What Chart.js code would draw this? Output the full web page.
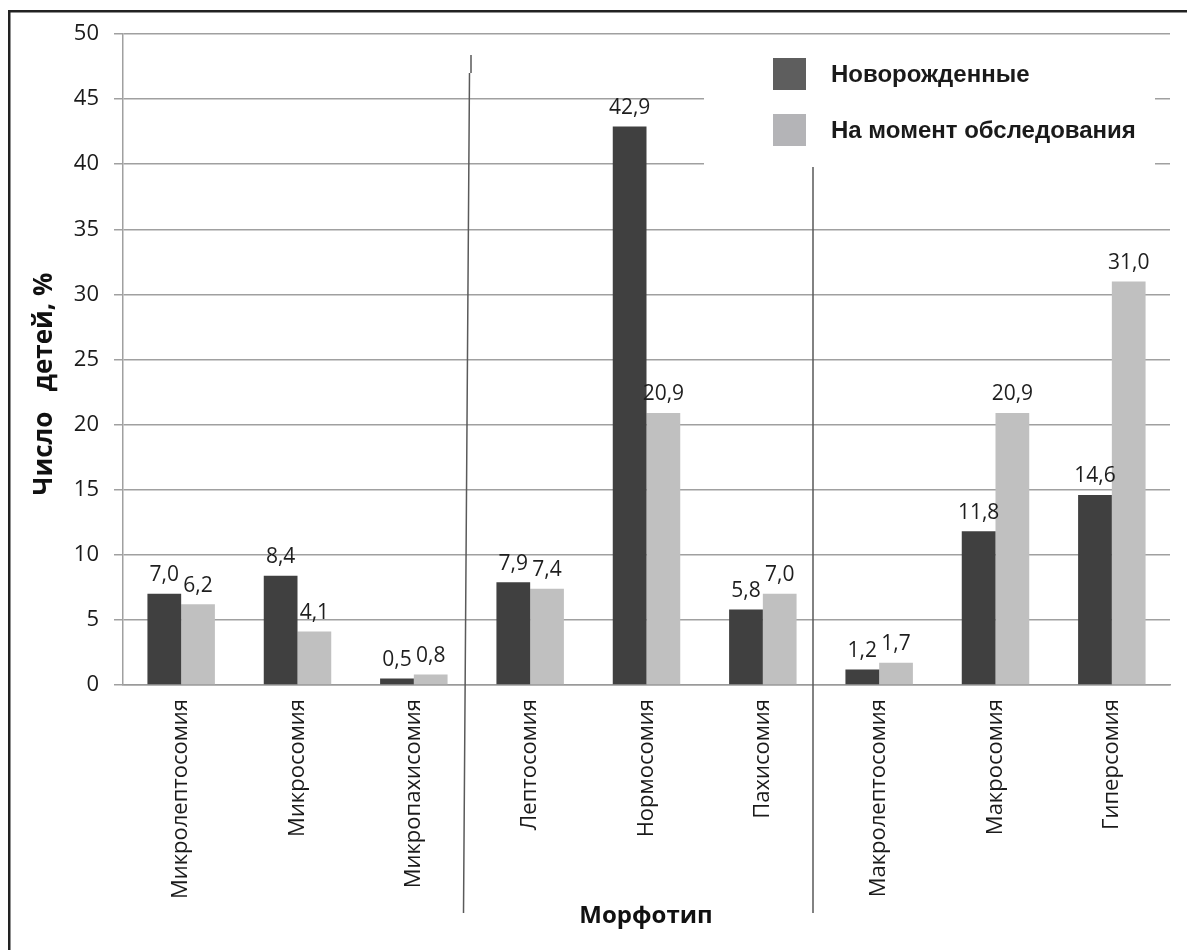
<!DOCTYPE html>
<html lang="ru">
<head>
<meta charset="utf-8">
<title>Распределение детей по морфотипам</title>
<script src="https://cdn.jsdelivr.net/npm/chart.js@4.4.1/dist/chart.umd.min.js"></script>
<style>
  html, body { margin: 0; padding: 0; background: #ffffff; }
  #wrap { position: relative; width: 1187px; height: 950px; }
  canvas { display: block; }
</style>
</head>
<body>
<div id="wrap"><canvas id="chart" width="1187" height="950"></canvas></div>
<script>
// Морфотипы (категории оси X)
const categories = [
  'Микролептосомия', 'Микросомия', 'Микропахисомия',
  'Лептосомия', 'Нормосомия', 'Пахисомия',
  'Макролептосомия', 'Макросомия', 'Гиперсомия'
];

// Доля детей, %
const newborns = [7.0, 8.4, 0.5, 7.9, 42.9, 5.8, 1.2, 11.8, 14.6];
const atExamination = [6.2, 4.1, 0.8, 7.4, 20.9, 7.0, 1.7, 20.9, 31.0];

const seriesNames = ['Новорожденные', 'На момент обследования'];
const yTicks = [0, 5, 10, 15, 20, 25, 30, 35, 40, 45, 50];

const axisTitleY = 'Число   детей, %';
const axisTitleX = 'Морфотип';

const barColors = ['#404040', '#c0c0c0'];
const legendColors = ['#5e5e5e', '#b4b4b7'];

const fmt = v => v.toFixed(1).replace('.', ',');

// Рамка, разделители групп, подписи значений, заголовки осей и легенда
const decorations = {
  id: 'decorations',
  afterDatasetsDraw(chart) {
    const ctx = chart.ctx;
    ctx.save();
    ctx.fillStyle = '#1e1e1e';
    ctx.font = '21px "Open Sans", sans-serif';
    ctx.textAlign = 'center';
    ctx.textBaseline = 'bottom';
    chart.data.datasets.forEach((ds, di) => {
      chart.getDatasetMeta(di).data.forEach((bar, i) => {
        ctx.fillText(fmt(ds.data[i]), bar.x, bar.y - 8);
      });
    });
    ctx.restore();
  },
  afterDraw(chart) {
    const ctx = chart.ctx;
    const xs = chart.scales.x;
    const area = chart.chartArea;
    ctx.save();

    // внешняя рамка (верх и слева)
    ctx.fillStyle = '#222222';
    ctx.fillRect(8, 10, chart.width - 8, 2.5);
    ctx.fillRect(8, 10, 2.5, chart.height - 10);

    // легенда на белой подложке
    ctx.fillStyle = '#ffffff';
    ctx.fillRect(704, area.top + 8, 451, 126);
    ctx.font = 'bold 24px "Liberation Sans", Arial, sans-serif';
    ctx.textAlign = 'left';
    ctx.textBaseline = 'middle';
    seriesNames.forEach((name, i) => {
      const cy = 74 + i * 56;
      ctx.fillStyle = legendColors[i];
      ctx.fillRect(773, cy - 16, 33, 32);
      ctx.fillStyle = '#1a1a1a';
      ctx.fillText(name, 831, cy + 1);
    });

    // разделители групп морфотипов
    ctx.strokeStyle = '#5a5a5a';
    ctx.lineWidth = 1.5;
    const sep1 = (xs.getPixelForValue(2) + xs.getPixelForValue(3)) / 2;
    const sep2 = (xs.getPixelForValue(5) + xs.getPixelForValue(6)) / 2;
    ctx.beginPath();
    ctx.moveTo(sep1 - 1, area.top + 21);
    ctx.lineTo(sep1 - 1, area.top + 39);
    ctx.moveTo(sep1 - 2.5, area.top + 39);
    ctx.lineTo(sep1 - 8.5, area.bottom + 228);
    ctx.moveTo(sep2 - 8, area.top + 133);
    ctx.lineTo(sep2 - 8, area.bottom + 228);
    ctx.stroke();

    // заголовки осей
    ctx.fillStyle = '#111111';
    ctx.textAlign = 'center';
    ctx.textBaseline = 'middle';
    ctx.font = 'bold 24px "Open Sans", sans-serif';
    ctx.fillText(axisTitleX, 646, 916);
    ctx.font = 'bold 26px "Open Sans", sans-serif';
    ctx.translate(45, 384);
    ctx.rotate(-Math.PI / 2);
    ctx.fillText(axisTitleY, 0, 0);
    ctx.restore();
  }
};

new Chart(document.getElementById('chart'), {
  type: 'bar',
  data: {
    labels: categories,
    datasets: [
      { label: seriesNames[0], data: newborns, backgroundColor: barColors[0] },
      { label: seriesNames[1], data: atExamination, backgroundColor: barColors[1] }
    ]
  },
  options: {
    responsive: false,
    animation: false,
    devicePixelRatio: 1,
    layout: { padding: { top: 34, right: 17, left: 0, bottom: 0 } },
    datasets: { bar: { categoryPercentage: 0.58, barPercentage: 1.0, borderWidth: 0 } },
    plugins: { legend: { display: false }, tooltip: { enabled: false } },
    scales: {
      x: {
        grid: { display: false, drawTicks: false },
        border: { display: true, color: '#9a9a9a', width: 1.5 },
        ticks: {
          autoSkip: false,
          minRotation: 90,
          maxRotation: 90,
          padding: 14,
          color: '#1a1a1a',
          font: { family: '"Open Sans", sans-serif', size: 22 }
        },
        afterFit(scale) { scale.height = 265; }
      },
      y: {
        min: 0,
        max: 50,
        afterBuildTicks(scale) { scale.ticks = yTicks.map(v => ({ value: v })); },
        grid: { color: '#a0a0a0', lineWidth: 1.5, tickLength: 9, drawTicks: true },
        border: { display: true, color: '#a0a0a0', width: 1.5 },
        ticks: {
          padding: 15,
          color: '#1a1a1a',
          font: { family: '"Open Sans", sans-serif', size: 22 }
        },
        afterFit(scale) { scale.width = 123; }
      }
    }
  },
  plugins: [decorations]
});
</script>
</body>
</html>
